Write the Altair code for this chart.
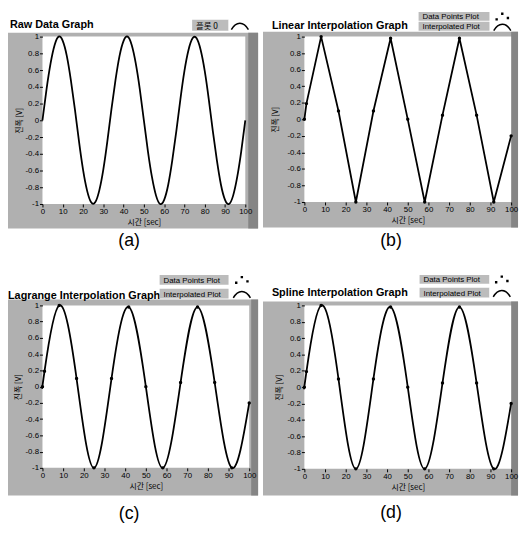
import altair as alt
import pandas as pd

# ---- data ----
raw_t = list(range(0, 101, 2))
raw_v = [0.0, 0.37, 0.68, 0.9, 1.0, 0.95, 0.77, 0.48, 0.13, -0.25, -0.59, -0.84, -0.98,
         -0.98, -0.84, -0.59, -0.25, 0.13, 0.48, 0.77, 0.95, 1.0, 0.9, 0.68, 0.37, 0.0,
         -0.37, -0.68, -0.9, -1.0, -0.95, -0.77, -0.48, -0.13, 0.25, 0.59, 0.84, 0.98,
         0.98, 0.84, 0.59, 0.25, -0.13, -0.48, -0.77, -0.95, -1.0, -0.9, -0.68, -0.37, 0.0]

pt_t = [0, 1, 8.1, 16.5, 24.9, 33.4, 41.7, 50, 58.2, 66.8, 75, 83.3, 91.6, 100]
pt_v = [0.0, 0.19, 1.0, 0.1, -1.0, 0.1, 0.98, 0.0, -1.0, 0.05, 0.98, 0.05, -1.0, -0.2]

x_ticks = [0, 10, 20, 30, 40, 50, 60, 70, 80, 90, 100]
y_ticks = [-1, -0.8, -0.6, -0.4, -0.2, 0, 0.2, 0.4, 0.6, 0.8, 1]

titles = ["Raw Data Graph", "Linear Interpolation Graph",
          "Lagrange Interpolation Graph", "Spline Interpolation Graph"]
captions = ["(a)", "(b)", "(c)", "(d)"]
legend_raw = ["플롯 0"]
legend_interp = ["Data Points Plot", "Interpolated Plot"]
x_title = "시간 [sec]"
y_title = "진폭 [V]"

FRAME = "#b0b0b0"
STRIP = "#858585"
LEGBOX = "#bcbcbc"
CJK = "Noto Sans CJK KR"
SANS = "Liberation Sans"
CHEV = "M-1,0.45C-0.45,-0.55,0.45,-0.55,1,0.45"
DOTS = "M-0.8,0.2h0.28v0.28h-0.28z M-0.14,-0.45h0.28v0.28h-0.28z M0.52,0.05h0.28v0.28h-0.28z"

one = pd.DataFrame({"k": [0]})
raw_df = pd.DataFrame({"t": raw_t, "v": raw_v})
pt_df = pd.DataFrame({"t": pt_t, "v": pt_v})


def rect(x, x2, y, y2, color):
    return alt.Chart(one).mark_rect(color=color).encode(
        x=alt.value(x), x2=alt.value(x2), y=alt.value(y), y2=alt.value(y2))


def text(s, x, y, size, font, weight="normal", align="left"):
    return alt.Chart(one).mark_text(
        text=s, align=align, baseline="alphabetic", fontSize=size, font=font,
        fontWeight=weight, color="black").encode(x=alt.value(x), y=alt.value(y))


def icon(shape, x, y, filled):
    if filled:
        m = alt.Chart(one).mark_point(shape=shape, size=300, filled=True, color="black", opacity=1)
    else:
        m = alt.Chart(one).mark_point(shape=shape, size=300, filled=False, color="black",
                                      strokeWidth=1.5, opacity=1)
    return m.encode(x=alt.value(x), y=alt.value(y))


AX = dict(labelFont=SANS, labelFontSize=8, labelColor="black", labelPadding=1,
          tickColor="black", tickSize=3, domain=False, grid=False,
          titleFont=CJK, titleFontSize=8, titleFontWeight="normal", titleColor="black",
          zindex=2, labelFlush=False, labelOverlap=False)


def panel(s):
    W, H = s["W"], s["H"]
    layers = []
    c = s["cell"]
    layers.append(rect(c[0], c[1], c[2], c[3], "white"))
    f = s["frame"]
    layers.append(rect(f[0], f[1], f[2], f[3], FRAME))
    layers.append(rect(s["strip"], f[1], f[2], f[3], STRIP))
    layers.append(rect(0, W, 0, H, "white"))

    xenc = alt.X("t:Q", scale=alt.Scale(domain=[0, 100], nice=False, zero=False),
                 axis=alt.Axis(values=x_ticks, title=x_title, titlePadding=3, **AX))
    yenc = alt.Y("v:Q", scale=alt.Scale(domain=[-1, 1], nice=False, zero=False),
                 axis=alt.Axis(values=y_ticks, title=y_title, titlePadding=s["ypad"],
                               labelExpr="'' + datum.value", **AX))
    df = raw_df if s["kind"] == "raw" else pt_df
    layers.append(alt.Chart(df).mark_line(color="black", strokeWidth=1.8,
                                          interpolate=s["interp"]).encode(x=xenc, y=yenc))
    if s["kind"] != "raw":
        layers.append(alt.Chart(pt_df).mark_circle(size=12, color="black", opacity=1)
                      .encode(x=xenc, y=yenc))

    tx, ty = s["title"]
    layers.append(text(s["title_text"], tx, ty, 11, SANS, "bold"))

    for row in s["legend"]:
        lx0, lx1, ly0, ly1, ix0, ix1, label, kind = row
        layers.append(rect(lx0, lx1, ly0, ly1, LEGBOX))
        layers.append(rect(ix0, ix1, ly0, ly1, "white"))
        font = CJK if kind == "raw" else SANS
        layers.append(text(label, lx0 + 4, ly1 - 2, 8.5 if kind == "raw" else 8, font))
        cxm = (ix0 + ix1) / 2
        cym = (ly0 + ly1) / 2
        if kind == "dots":
            layers.append(icon(DOTS, cxm, cym, True))
        else:
            layers.append(icon(CHEV, cxm, cym + 0.5, False))

    capx, capy = s["cap"]
    layers.append(text(s["cap_text"], capx, capy, 18, SANS, "normal", "center"))
    return alt.layer(*layers).properties(width=W, height=H)


pa = panel(dict(kind="raw", interp="natural", W=206, H=170,
                cell=(-35, 221, -25, 231), frame=(-35, 219, -4, 195), strip=209, ypad=2,
                title=(-33, -9), title_text=titles[0],
                legend=[(152, 189, -17, -6, 189, 212, legend_raw[0], "raw")],
                cap=(88, 213), cap_text=captions[0]))

pb = panel(dict(kind="pts", interp="linear", W=210, H=168,
                cell=(-45, 219, -25, 231), frame=(-42, 217, -5, 194), strip=210, ypad=7,
                title=(-33, -8), title_text=titles[1],
                legend=[(116, 188, -25, -16, 189, 213, legend_interp[0], "dots"),
                        (116, 188, -15, -6, 189, 213, legend_interp[1], "line")],
                cap=(88, 213), cap_text=captions[1]))

pc = panel(dict(kind="pts", interp="natural", W=210, H=165,
                cell=(-35, 221, -41, 221), frame=(-35, 219, -6, 193), strip=212, ypad=3,
                title=(-35, -7), title_text=titles[2],
                legend=[(119, 189, -31, -21, 192, 213, legend_interp[0], "dots"),
                        (119, 189, -17, -7, 192, 213, legend_interp[1], "line")],
                cap=(88, 217), cap_text=captions[2]))

pd_ = panel(dict(kind="pts", interp="natural", W=210, H=166,
                 cell=(-45, 219, -42, 220), frame=(-42, 217, -4, 193), strip=210, ypad=3,
                 title=(-33, -10), title_text=titles[3],
                 legend=[(117, 188, -31, -22, 188, 213, legend_interp[0], "dots"),
                         (117, 188, -18, -8, 188, 213, legend_interp[1], "line")],
                 cap=(88, 216), cap_text=captions[3]))

chart = alt.vconcat(
    alt.hconcat(pa, pb, spacing=0),
    alt.hconcat(pc, pd_, spacing=0),
    spacing=0,
).properties(padding=0).configure_view(stroke=None)

chart.save("out.html", embed_options={"renderer": "svg", "actions": False})
